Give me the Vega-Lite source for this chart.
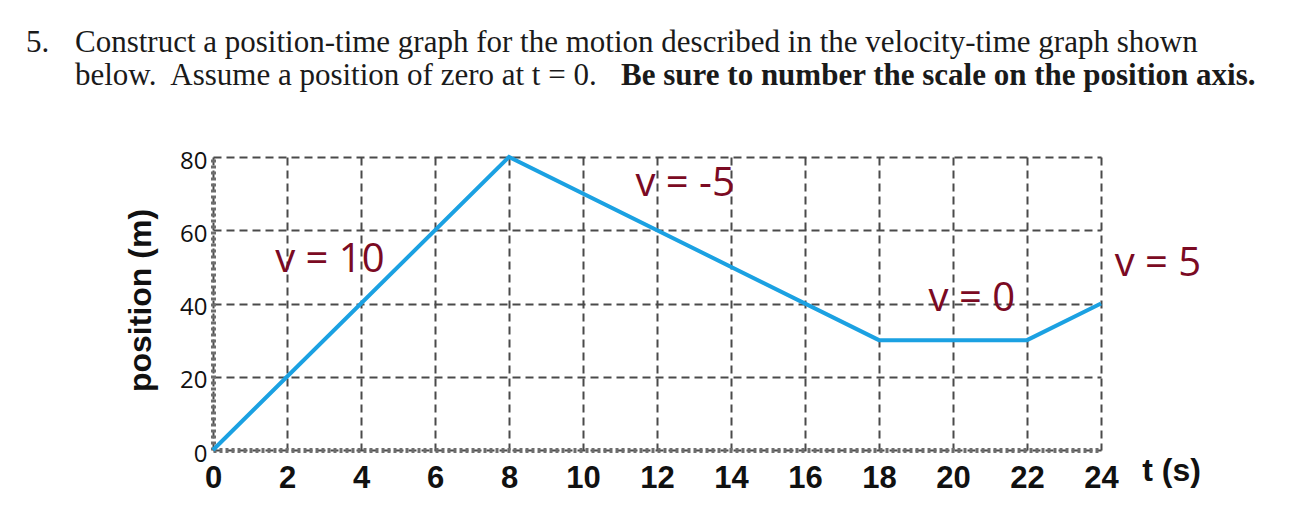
{
  "$schema": "https://vega.github.io/schema/vega-lite/v6.json",
  "width": 888,
  "height": 293,
  "autosize": {"type": "none"},
  "padding": {"left": 213, "top": 157, "right": 191, "bottom": 57},
  "background": "white",
  "config": {"view": {"stroke": null}},
  "datasets": {
    "motion": [
      {"t": 0, "pos": 0},
      {"t": 8, "pos": 80},
      {"t": 18, "pos": 30},
      {"t": 22, "pos": 30},
      {"t": 24, "pos": 40}
    ],
    "labels": [
      {"t": 3.16, "pos": 51.9, "text": "v = 10"},
      {"t": 12.76, "pos": 72.6, "text": "v = -5"},
      {"t": 20.51, "pos": 41.2, "text": "v = 0"},
      {"t": 25.54, "pos": 50.8, "text": "v = 5"}
    ],
    "heading": [
      {"t": -5.054, "pos": 108.7, "text": "5."},
      {"t": -3.73, "pos": 108.7, "text": "Construct a position-time graph for the motion described in the velocity-time graph shown"},
      {"t": -3.73, "pos": 99.7, "text": "below.\u00a0 Assume a position of zero at t = 0."}
    ],
    "headingBold": [
      {"t": 11.03, "pos": 99.7, "text": "Be sure to number the scale on the position axis."}
    ]
  },
  "layer": [
    {
      "data": {"name": "motion"},
      "mark": {"type": "line", "color": "#1ba1e2", "strokeWidth": 4},
      "encoding": {
        "x": {
          "field": "t", "type": "quantitative",
          "scale": {"domain": [0, 24], "nice": false, "zero": false},
          "axis": {
            "values": [0, 2, 4, 6, 8, 10, 12, 14, 16, 18, 20, 22, 24],
            "grid": true, "gridDash": [8, 5], "gridColor": "#4a4a4a", "gridWidth": 2, "gridOpacity": 1,
            "domainColor": "#6e6e6e", "domainWidth": 5, "domainDash": [3, 3],
            "ticks": false,
            "labelFont": "Liberation Sans", "labelFontWeight": "bold", "labelFontSize": 31, "labelColor": "#111111",
            "labelPadding": 13, "labelFlush": false, "labelOverlap": false,
            "title": "t (s)", "titleFont": "Liberation Sans", "titleFontWeight": "bold", "titleFontSize": 32,
            "titleColor": "#111111", "titleX": 958, "titleY": 20, "titleAlign": "center", "titleBaseline": "middle", "titleAngle": 0
          }
        },
        "y": {
          "field": "pos", "type": "quantitative",
          "scale": {"domain": [0, 80], "nice": false, "zero": false},
          "axis": {
            "values": [0, 20, 40, 60, 80],
            "grid": true, "gridDash": [8, 5], "gridColor": "#4a4a4a", "gridWidth": 2, "gridOpacity": 1,
            "domainColor": "#6e6e6e", "domainWidth": 5, "domainDash": [3, 3],
            "ticks": false,
            "labelFont": "Open Sans", "labelFontSize": 24, "labelColor": "#111111",
            "labelPadding": 6, "labelOffset": 4, "labelFlush": false, "labelOverlap": false,
            "title": "position (m)", "titleFont": "Liberation Sans", "titleFontWeight": "bold", "titleFontSize": 32,
            "titleColor": "#111111", "titleX": -73, "titleY": 143, "titleAlign": "center", "titleBaseline": "middle", "titleAngle": -90
          }
        }
      }
    },
    {
      "data": {"name": "labels"},
      "mark": {"type": "text", "font": "Open Sans", "fontSize": 40, "color": "#7b0a23", "align": "center", "baseline": "middle"},
      "encoding": {
        "x": {"field": "t", "type": "quantitative", "scale": {"domain": [0, 24], "nice": false, "zero": false}},
        "y": {"field": "pos", "type": "quantitative", "scale": {"domain": [0, 80], "nice": false, "zero": false}},
        "text": {"field": "text"}
      }
    },
    {
      "data": {"name": "heading"},
      "mark": {"type": "text", "font": "Liberation Serif", "fontSize": 31, "color": "#1a1a1a", "align": "left", "baseline": "alphabetic"},
      "encoding": {
        "x": {"field": "t", "type": "quantitative", "scale": {"domain": [0, 24], "nice": false, "zero": false}},
        "y": {"field": "pos", "type": "quantitative", "scale": {"domain": [0, 80], "nice": false, "zero": false}},
        "text": {"field": "text"}
      }
    },
    {
      "data": {"name": "headingBold"},
      "mark": {"type": "text", "font": "Liberation Serif", "fontSize": 31, "fontWeight": "bold", "color": "#1a1a1a", "align": "left", "baseline": "alphabetic"},
      "encoding": {
        "x": {"field": "t", "type": "quantitative", "scale": {"domain": [0, 24], "nice": false, "zero": false}},
        "y": {"field": "pos", "type": "quantitative", "scale": {"domain": [0, 80], "nice": false, "zero": false}},
        "text": {"field": "text"}
      }
    }
  ]
}
